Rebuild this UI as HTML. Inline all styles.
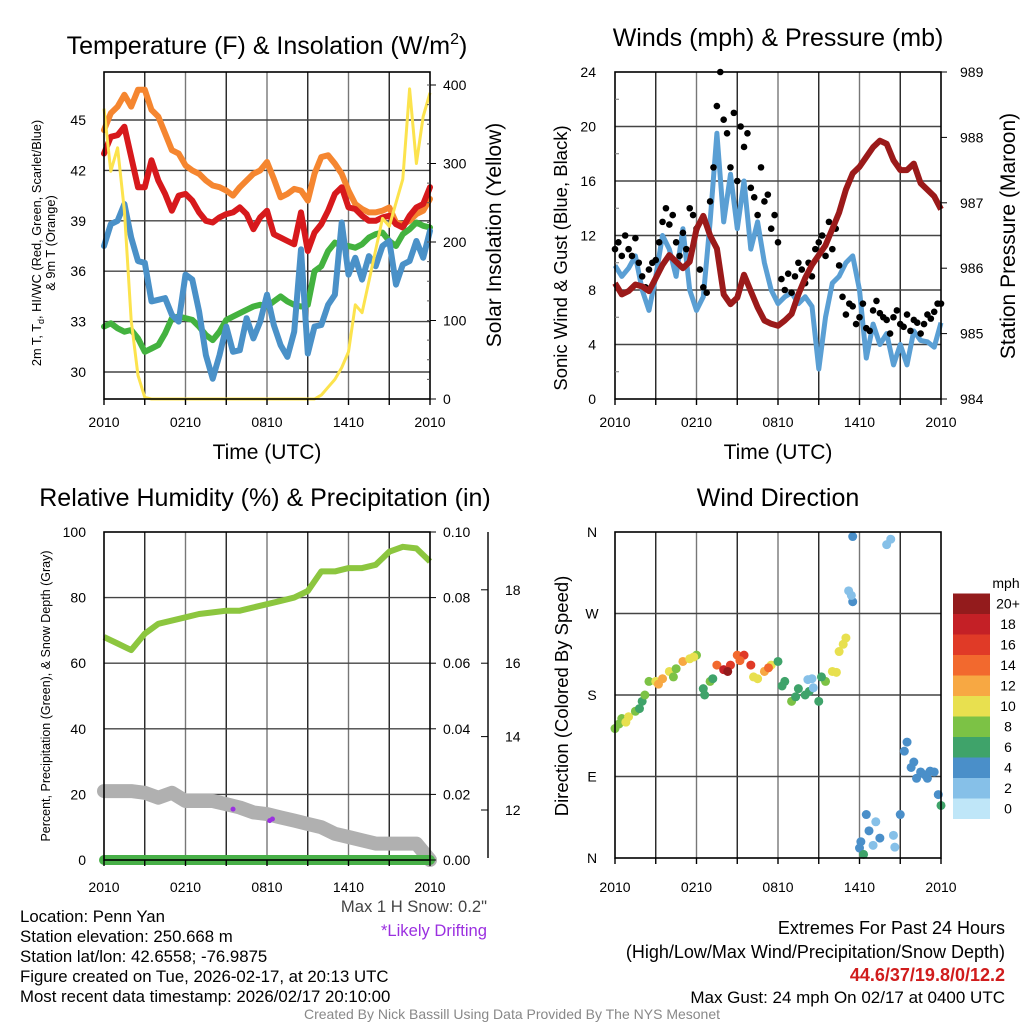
<!DOCTYPE html>
<html><head><meta charset="utf-8">
<style>
html,body{margin:0;padding:0;background:#fff;}
svg{display:block;font-family:"Liberation Sans",sans-serif;}
</style></head>
<body>
<svg id="chart" width="1024" height="1024" viewBox="0 0 1024 1024" xmlns="http://www.w3.org/2000/svg"></svg>
<script>
// ---------- DATA ----------
const xTickLabels = ["2010","0210","0810","1410","2010"];
const halfHours = Array.from({length:49},(_,i)=>i*0.5);
const quarterHours = Array.from({length:97},(_,i)=>i*0.25);
const hours = Array.from({length:25},(_,i)=>i);

const tempTicks = [30,33,36,39,42,45];
const solarTicks = [0,100,200,300,400];
const orangeT = [44.4,45.4,45.8,46.5,45.8,46.8,46.8,45.6,45.2,44.2,43.2,43.0,42.3,42.0,41.8,41.4,41.1,41.0,40.8,40.5,41.0,41.4,41.8,42.0,42.5,41.5,40.4,40.6,40.9,40.8,40.2,41.8,42.8,42.9,42.4,41.8,40.8,40.0,39.7,39.5,39.5,39.6,39.8,38.9,38.8,39.0,39.4,39.6,40.3];
const redT = [43.0,44.0,44.1,44.6,42.8,41.0,41.0,42.6,41.4,40.6,39.6,40.5,40.6,40.2,39.5,39.0,38.9,39.2,39.4,39.5,39.8,39.4,38.5,39.2,39.6,38.2,38.0,37.8,37.6,39.5,37.2,38.3,38.8,39.6,40.6,41.0,39.8,39.7,39.3,39.0,39.0,39.2,39.3,38.8,38.6,39.3,39.8,40.0,41.0];
const greenTd = [32.7,32.9,32.6,32.4,32.5,32.0,31.2,31.4,31.6,32.3,33.2,33.3,33.2,33.1,32.7,32.2,31.9,32.4,33.1,33.3,33.5,33.7,33.9,34.0,33.9,34.2,34.5,34.2,34.0,33.9,34.0,36.0,36.3,37.2,37.7,37.5,37.5,37.4,37.6,38.0,38.2,38.3,37.8,37.5,38.2,38.5,38.9,38.7,38.6];
const blueWC = [37.5,38.8,39.0,40.0,38.0,36.6,36.5,34.2,34.3,34.4,33.4,33.0,35.8,35.5,33.6,31.0,29.6,31.0,32.7,31.2,31.3,33.2,32.0,33.0,34.6,32.8,31.6,30.9,32.4,37.3,31.1,32.7,32.8,34.0,34.6,38.9,35.8,36.8,35.5,36.9,36.3,37.5,37.8,35.2,36.4,36.6,37.8,36.8,38.4];
const solar = [370,290,320,240,100,30,2,0,0,0,0,0,0,0,0,0,0,0,0,0,0,0,0,0,0,0,0,0,0,0,0,0,5,15,25,40,60,120,110,150,190,230,220,250,280,395,300,360,390];

const windTicks = [0,4,8,12,16,20,24];
const presTicks = [984,985,986,987,988,989];
const windSpeed = [9.8,9.0,9.6,10.5,8.0,6.5,9.0,12.0,11.0,9.0,12.5,8.0,6.5,7.5,13.0,19.5,13.0,16.5,12.5,16.0,11.0,13.0,10.0,8.0,7.0,7.5,7.8,7.0,7.5,6.8,2.2,6.0,8.5,9.0,10.0,10.5,8.0,3.0,5.5,4.0,4.8,2.5,4.0,2.5,5.0,4.3,4.2,3.8,5.6];
const windGust = [11,11.5,10.5,12, 11,10.5,11.8,10, 9,8.2,9.5,10, 10.2,11.5,13,14, 12.8,13.5,11.5,10.5, 12.2,11,14,13.5, 12.5,9.5,8.2,7.8, 14.5,17,21.5,24, 20.5,19.5,17,21, 16,20,18.5,19.5, 15.5,14.8,13.5,17, 14.5,15,12.5,13.5, 11.5,8.8,8.0,9.2, 7.8,9,10,9.5, 8.5,10,9,11, 11.5,12,10.5,13, 11,12.5,9.8,7.5, 6.2,7,6.8,5.5, 6,7,5.2,5, 6.5,7.2,6.3,6, 5.8,4.8,6,6.5, 5.5,5.3,6.2,5, 5.8,5.6,4.8,5.5, 6.2,5.9,6.4,7.0, 7.0];
const pressure = [985.77,985.6,985.65,985.75,985.72,985.65,985.85,986.05,986.2,986.1,986.0,986.1,986.6,986.8,986.5,986.3,985.6,985.45,985.55,985.9,985.65,985.4,985.2,985.15,985.12,985.2,985.3,985.6,985.85,986.05,986.2,986.35,986.6,986.85,987.2,987.45,987.55,987.7,987.85,987.95,987.9,987.65,987.5,987.5,987.6,987.3,987.2,987.1,986.9];

const rhTicks = [0,20,40,60,80,100];
const precipTicks = ["0.00","0.02","0.04","0.06","0.08","0.10"];
const snowTicks = [12,14,16,18];
const rh = [68,66,64,69,72,73,74,75,75.5,76,76,77,78,79,80,82,88,88,89,89,90,94,95.5,95,91];
const precip = [0,0,0,0,0,0,0,0,0,0,0,0,0,0,0,0,0,0,0,0,0,0,0,0,0];
const snowPct = [21,21,21,20.5,19,20.5,18,18,18,17,16,14.5,14,13,12,11,10,8,7,6,5,5,5,5,0];
const driftT = [9.5,12.2,12.4];
const driftV = [15.5,12,12.5];

const dirLabels = ["N","E","S","W","N"];
const dirTickVals = [0,90,180,270,360];
const dirT = halfHours;
const dirDeg = [143,154,156,162,173,195,195,198,206,209,217,220,224,187,195,213,208,213,224,224,213,198,206,213,217,195,173,187,180,198,173,195,206,228,243,283,11,48,14,22,346,25,48,128,106,95,88,95,58];
const dirSpd = [8,9,10,9,6,8,10,12,10,8,12,10,8,7,8,14,19,16,14,16,16,10,12,10,6,6,8,6,7,3,6,8,10,10,10,4,4,4,3,4,3,2,4,4,4,4,4,4,6];
const extraT = [0.3,0.8,1.8,2.2,3.2,4.3,5.8,6.6,7.2,8.3,9.2,10.2,11.3,12.3,13.3,14.3,14.6,15.2,16.3,16.8,17.2,17.4,17.5,18.3,18.7,19.2,20.3,20.6,21.3,21.8,22.2,22.8,23.2,23.8,14.2,18.1];
const extraDeg = [148,150,165,180,192,200,222,180,198,206,218,200,210,190,178,184,188,200,205,236,295,290,355,4,30,40,352,12,118,100,88,92,96,70,197,18];
const extraSpd = [9,10,7,8,12,9,10,6,7,20,15,11,14,6,7,6,2,7,10,10,2,3,4,6,4,2,3,2,4,4,4,4,4,4,3,4];

const cbLabels = ["0","2","4","6","8","10","12","14","16","18","20+"];
const cbColors = ["#bfe6f8","#86c0e8","#4a8fc9","#3fa36a","#7cc245","#e8e04f","#f7a843","#f2692e","#e03a27","#c42026","#931b1c"];

// ---------- HELPERS ----------
const svg = document.getElementById('chart');
const NS = "http://www.w3.org/2000/svg";
function mk(tag, attrs, parent){ const e=document.createElementNS(NS,tag); for(const k in attrs) e.setAttribute(k,attrs[k]); (parent||svg).appendChild(e); return e; }
function txt(s, x, y, size, anchor, parent, extra){ const t=mk('text',Object.assign({x:x,y:y,'font-size':size,'text-anchor':anchor||'middle',fill:'#000'},extra||{}),parent); t.textContent=s; return t; }
function spdColor(s){ let i=Math.floor(s/2); if(i<0)i=0; if(i>10)i=10; return cbColors[i]; }
function pathD(xs, ys){ return xs.map((x,i)=>(i?'L':'M')+x.toFixed(1)+' '+ys[i].toFixed(1)).join(''); }

function panel(name){
  const g=mk('g',{});
  
  
  return g;
}
function grid(g,x0,x1,y0,y1,hys,name){
  const gg=mk('g',{},g);
  
  
  for(let k=1;k<8;k++){ const x=x0+(x1-x0)*k/8; mk('line',{x1:x,y1:y0,x2:x,y2:y1,stroke:k%2?'#222':'#777','stroke-width':1.4},gg); }
  hys.forEach(y=>mk('line',{x1:x0,y1:y,x2:x1,y2:y,stroke:'#444','stroke-width':1.4},gg));
}
function frame(g,x0,x1,y0,y1){ const r=mk('rect',{x:x0,y:y0,width:x1-x0,height:y1-y0,fill:'none',stroke:'#000','stroke-width':1.6},g);
  
   }
function xLabels(g,x0,x1,y1,ly){
  for(let k=0;k<=8;k++){ const x=x0+(x1-x0)*k/8; mk('line',{x1:x,y1:y1,x2:x,y2:y1+6,stroke:'#000','stroke-width':1.4},g); }
  xTickLabels.forEach((l,k)=>{ const x=x0+(x1-x0)*k/4;
    const t=txt(l,x,ly,14,'middle',g);
    
     });
}

// ---------- PANEL 1 ----------
(function(){
  const X0=104,X1=430,Y0=72,Y1=399;
  const xs=h=>X0+h*(X1-X0)/24, yT=t=>120+(45-t)*16.8, yS=v=>399-v*0.785;
  const g=panel('temperature-panel');
  grid(g,X0,X1,Y0,Y1,tempTicks.map(yT),'temperature-grid');
  const ys = [['#f58630',orangeT,'orange-9m-temp-line'],['#d7191c',redT,'red-2m-temp-line'],['#43b23f',greenTd,'green-dewpoint-line'],['#4a91c8',blueWC,'blue-windchill-line']];
  ys.forEach(([c,arr,n])=>{ const p=mk('path',{d:pathD(halfHours.map(xs),arr.map(yT)),fill:'none',stroke:c,'stroke-width':6,'stroke-linejoin':'round','stroke-linecap':'round'},g);
    
     });
  const ysol=mk('path',{d:pathD(halfHours.map(xs),solar.map(yS)),fill:'none',stroke:'#fce34d','stroke-width':3,'stroke-linejoin':'round'},g);
  
  
  frame(g,X0,X1,Y0,Y1);
  tempTicks.forEach(t=>{ const e=txt(String(t),86,yT(t)+5,14,'end',g);
    
     });
  solarTicks.forEach(v=>{ mk('line',{x1:X1,y1:yS(v),x2:X1+6,y2:yS(v),stroke:'#000'},g);
    const e=txt(String(v),443,yS(v)+5,14,'start',g);
    
     });
  for(let v=25;v<=400;v+=25){ mk('line',{x1:X1,y1:yS(v),x2:X1-3,y2:yS(v),stroke:'#555'},g); }
  xLabels(g,X0,X1,Y1,427);
  const t1=txt('',267,54,25,'middle',g); t1.innerHTML='Temperature (F) &amp; Insolation (W/m<tspan font-size="16" dy="-10">2</tspan><tspan dy="10">)</tspan>';
  
  
  const xl=txt('Time (UTC)',267,459,21,'middle',g);
  
  
  const yl=txt('',0,0,12.8,'middle',g,{transform:'translate(41,243) rotate(-90)'});
  yl.innerHTML='2m T, T<tspan font-size="9" dy="3">d</tspan><tspan dy="-3">, HI/WC (Red, Green, Scarlet/Blue)</tspan>';
  
  
  const yl2=txt('& 9m T (Orange)',0,0,12.8,'middle',g,{transform:'translate(55,243) rotate(-90)'});
  
  
  const yr=txt('Solar Insolation (Yellow)',0,0,21,'middle',g,{transform:'translate(501,235) rotate(-90)'});
  
  
})();

// ---------- PANEL 2 ----------
(function(){
  const X0=615,X1=941,Y0=72,Y1=399;
  const xs=h=>X0+h*(X1-X0)/24, yW=w=>399-w*13.625, yP=p=>399-(p-984)*65.4;
  const g=panel('winds-panel');
  grid(g,X0,X1,Y0,Y1,windTicks.slice(1,6).map(yW),'winds-grid');
  const wp=mk('path',{d:pathD(halfHours.map(xs),windSpeed.map(yW)),fill:'none',stroke:'#5a9fd4','stroke-width':5,'stroke-linejoin':'round'},g);
  
  
  windGust.forEach((v,i)=>{ const c=mk('circle',{cx:xs(quarterHours[i]),cy:yW(v),r:3.3,fill:'#000'},g);
    
     });
  const pp=mk('path',{d:pathD(halfHours.map(xs),pressure.map(yP)),fill:'none',stroke:'#9b1a1a','stroke-width':6,'stroke-linejoin':'round'},g);
  
  
  frame(g,X0,X1,Y0,Y1);
  windTicks.forEach(w=>{ const e=txt(String(w),596,yW(w)+5,14,'end',g);
    
     });
  presTicks.forEach(p=>{ mk('line',{x1:X1,y1:yP(p),x2:X1+6,y2:yP(p),stroke:'#000'},g);
    const e=txt(String(p),960,yP(p)+5,14,'start',g);
    
     });
  for(let v=2;v<24;v+=4) mk('line',{x1:X0,y1:yW(v),x2:X0+4,y2:yW(v),stroke:'#777'},g);
  xLabels(g,X0,X1,Y1,427);
  const t=txt('Winds (mph) & Pressure (mb)',778,46,25,'middle',g);
  
  
  const xl=txt('Time (UTC)',778,459,21,'middle',g);
  
  
  const yl=txt('Sonic Wind & Gust (Blue, Black)',0,0,18.5,'middle',g,{transform:'translate(567,258) rotate(-90)'});
  
  
  const yr=txt('Station Pressure (Maroon)',0,0,21,'middle',g,{transform:'translate(1015,236) rotate(-90)'});
  
  
})();

// ---------- PANEL 3 ----------
(function(){
  const X0=104,X1=430,Y0=532,Y1=860;
  const xs=h=>X0+h*(X1-X0)/24, yR=v=>860-v*3.28;
  const g=panel('humidity-panel');
  grid(g,X0,X1,Y0,Y1,rhTicks.slice(1,5).map(yR),'humidity-grid');
  const sp=mk('path',{d:pathD(hours.map(xs),snowPct.map(yR)),fill:'none',stroke:'#b0b0b0','stroke-width':14,'stroke-linejoin':'round','stroke-linecap':'round'},g);
  
  
  driftT.forEach((h,i)=>{ const c=mk('circle',{cx:xs(h),cy:yR(driftV[i]),r:2.5,fill:'#9b30e0'},g);
    
     });
  const pr=mk('path',{d:pathD(hours.map(xs),precip.map(v=>yR(v*1000))),fill:'none',stroke:'#48b048','stroke-width':10,'stroke-linecap':'round'},g);
  
  
  const rp=mk('path',{d:pathD(hours.map(xs),rh.map(yR)),fill:'none',stroke:'#8cc63f','stroke-width':6,'stroke-linejoin':'round'},g);
  
  
  frame(g,X0,X1,Y0,Y1);
  rhTicks.forEach(v=>{ const e=txt(String(v),86,yR(v)+5,14,'end',g);
    
     });
  precipTicks.forEach((l,k)=>{ const y=yR(k*20); mk('line',{x1:X1,y1:y,x2:X1+6,y2:y,stroke:'#000'},g);
    const e=txt(l,443,y+5,14,'start',g);
    
     });
  mk('line',{x1:488,y1:532,x2:488,y2:858,stroke:'#000','stroke-width':1.4},g);
  snowTicks.forEach(s=>{ const y=810-(s-12)*36.7; mk('line',{x1:488,y1:y,x2:481,y2:y,stroke:'#000'},g);
    const e=txt(String(s),505,y+5,14,'start',g);
    
     });
  xLabels(g,X0,X1,Y1,892);
  const t=txt('Relative Humidity (%) & Precipitation (in)',265,506,25,'middle',g);
  
  
  const yl=txt('Percent, Precipitation (Green), & Snow Depth (Gray)',0,0,12.5,'middle',g,{transform:'translate(50,696) rotate(-90)'});
  
  
})();

// ---------- PANEL 4 ----------
(function(){
  const X0=615,X1=941,Y0=532,Y1=858;
  const xs=h=>X0+h*(X1-X0)/24, yD=d=>858-d*326/360;
  const g=panel('wind-direction-panel');
  grid(g,X0,X1,Y0,Y1,[90,180,270].map(yD),'direction-grid');
  const all=[];
  dirT.forEach((h,i)=>all.push([h,dirDeg[i],dirSpd[i]]));
  extraT.forEach((h,i)=>all.push([h,extraDeg[i],extraSpd[i]]));
  all.forEach(p=>{ const c=mk('circle',{cx:xs(p[0]),cy:yD(p[1]),r:4.5,fill:spdColor(p[2])},g);
    
     });
  frame(g,X0,X1,Y0,Y1);
  dirTickVals.forEach((d,k)=>{ const e=txt(dirLabels[k],592,yD(d)+5,14,'middle',g);
    
     });
  xLabels(g,X0,X1,Y1,892);
  const t=txt('Wind Direction',778,506,25,'middle',g);
  
  
  const yl=txt('Direction (Colored By Speed)',0,0,18.5,'middle',g,{transform:'translate(568,696) rotate(-90)'});
  
  
  const cb=mk('g',{},g);
  
  
  cbColors.forEach((c,k)=>{ const y=819-(k+1)*20.5; mk('rect',{x:953,y:y,width:37,height:20.5,fill:c},cb);
    const e=txt(cbLabels[k],1008,y+15,14,'middle',cb);
    
     });
  const mph=txt('mph',1006,588,14,'middle',cb);
  
  
})();

// ---------- FOOTER TEXT ----------
const infoLines=["Location: Penn Yan","Station elevation: 250.668 m","Station lat/lon: 42.6558; -76.9875","Figure created on Tue, 2026-02-17, at 20:13 UTC","Most recent data timestamp: 2026/02/17 20:10:00"];
infoLines.forEach((s,i)=>{ const e=txt(s,20,922+i*20,16.8,'start');
  
   });
const ms=txt('Max 1 H Snow: 0.2"',487,912,16.6,'end',svg,{fill:'#444'});


const dr=txt('*Likely Drifting',487,936,16.6,'end',svg,{fill:'#9b30e0'});


const ex1=txt('Extremes For Past 24 Hours',1005,934,18,'end');


const ex2=txt('(High/Low/Max Wind/Precipitation/Snow Depth)',1005,958,18,'end');


const ex3=txt('44.6/37/19.8/0/12.2',1005,981,18,'end',svg,{fill:'#d01c1c','font-weight':'bold'});


const ex4=txt('Max Gust: 24 mph On 02/17 at 0400 UTC',1005,1003,17,'end');


const cr=txt('Created By Nick Bassill Using Data Provided By The NYS Mesonet',512,1019,14,'middle',svg,{fill:'#888'});


</script>
</body></html>
